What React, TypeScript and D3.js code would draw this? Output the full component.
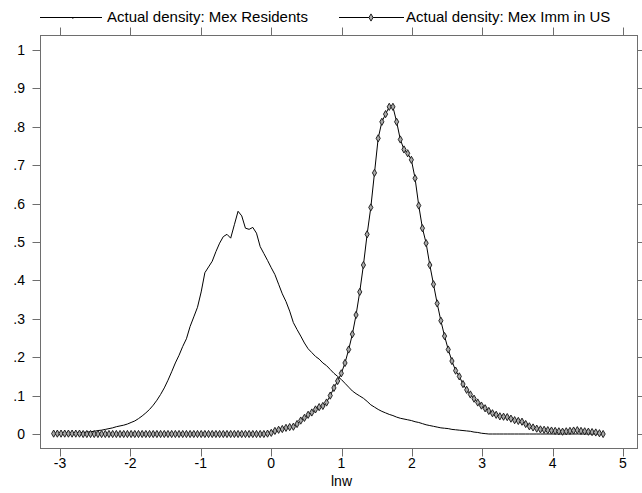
import React, { useEffect, useRef } from "react";
import * as d3 from "d3";

// kdensity evaluation grid (start, step, count)
const gridStart = -3.09;
const gridStep = 0.0524;
const gridCount = 150;

const residents: number[] = [
  0.0, 0.001, 0.001, 0.002, 0.002, 0.003, 0.003, 0.004, 0.004, 0.005,
  0.006, 0.007, 0.009, 0.01, 0.012, 0.014, 0.016, 0.019, 0.021, 0.023,
  0.026, 0.03, 0.034, 0.04, 0.047, 0.055, 0.064, 0.075, 0.088, 0.103,
  0.12, 0.14, 0.162, 0.185, 0.205, 0.228, 0.248, 0.28, 0.305, 0.33,
  0.37, 0.42, 0.435, 0.45, 0.475, 0.497, 0.514, 0.52, 0.51, 0.545,
  0.58, 0.568, 0.536, 0.533, 0.538, 0.523, 0.488, 0.47, 0.452, 0.433,
  0.415, 0.39, 0.365, 0.345, 0.32, 0.29, 0.272, 0.255, 0.237, 0.222,
  0.212, 0.202, 0.195, 0.185, 0.178, 0.168, 0.158, 0.15, 0.142, 0.132,
  0.122, 0.112, 0.105, 0.099, 0.093, 0.085, 0.076, 0.07, 0.064, 0.059,
  0.055, 0.051, 0.048, 0.044, 0.041, 0.039, 0.037, 0.035, 0.032, 0.03,
  0.027, 0.024, 0.022, 0.02, 0.018, 0.016, 0.015, 0.014, 0.012, 0.011,
  0.01, 0.009, 0.008, 0.007, 0.005, 0.004, 0.002, 0.001, 0.0, 0.0,
  0.0, 0.0, 0.0, 0.0, 0.0, 0.0, 0.0, 0.0, 0.0, 0.0,
  0.0, 0.0, 0.0, 0.0, 0.0, 0.0, 0.0, 0.0, 0.0, 0.0,
  0.0, 0.0, 0.0, 0.0, 0.0, 0.0, 0.0, 0.0, 0.0, 0.0,
];

const immigrants: number[] = [
  0.001, 0.001, 0.001, 0.001, 0.001, 0.001, 0.001, 0.001, 0.0, 0.0,
  0.0, 0.0, 0.0, 0.0, 0.0, 0.0, 0.0, 0.0, 0.0, 0.0,
  0.0, 0.0, 0.0, 0.0, 0.0, 0.0, 0.0, 0.0, 0.0, 0.0,
  0.0, 0.0, 0.0, 0.0, 0.0, 0.0, 0.0, 0.0, 0.0, 0.0,
  0.0, 0.0, 0.0, 0.0, 0.0, 0.0, 0.0, 0.0, 0.0, 0.0,
  0.0, 0.0, 0.0, 0.0, 0.0, 0.0, 0.0, 0.0, 0.001, 0.003,
  0.008, 0.011, 0.013, 0.016, 0.018, 0.019, 0.026, 0.035, 0.042, 0.05,
  0.056, 0.064, 0.07, 0.073, 0.082, 0.1, 0.12, 0.138, 0.158, 0.185,
  0.22, 0.26, 0.31, 0.37, 0.44, 0.52, 0.59, 0.68, 0.77, 0.813,
  0.833, 0.852, 0.852, 0.813, 0.767, 0.741, 0.731, 0.714, 0.666, 0.595,
  0.536, 0.497, 0.44, 0.39, 0.34, 0.295, 0.255, 0.22, 0.19, 0.165,
  0.15, 0.13, 0.115, 0.103, 0.092, 0.082, 0.074, 0.067, 0.06, 0.054,
  0.05, 0.046, 0.045, 0.044, 0.04, 0.036, 0.034, 0.032, 0.026, 0.02,
  0.017, 0.014, 0.012, 0.011, 0.01, 0.009, 0.008, 0.007, 0.006, 0.007,
  0.008, 0.009, 0.01, 0.008, 0.007, 0.006, 0.005, 0.004, 0.002, 0.0,
];

const xTicks = [-3, -2, -1, 0, 1, 2, 3, 4, 5];
const yTicks = [0, 0.1, 0.2, 0.3, 0.4, 0.5, 0.6, 0.7, 0.8, 0.9, 1];
const yTickLabels = ["0", ".1", ".2", ".3", ".4", ".5", ".6", ".7", ".8", ".9", "1"];
const seriesNames = ["Actual density: Mex Residents", "Actual density: Mex Imm in US"];
const xTitle = "lnw";

const W = 642;
const H = 493;
const frame = { left: 40, right: 637, top: 35, bottom: 448 };
const FONT = "'Liberation Sans', Arial, sans-serif";

export default function App() {
  const ref = useRef<SVGSVGElement | null>(null);

  useEffect(() => {
    const svg = d3.select(ref.current);
    svg.selectAll("*").remove();

    const x = d3.scaleLinear().domain([-3, 5]).range([60, 623]);
    const y = d3.scaleLinear().domain([0, 1]).range([434, 50]);

    const grid = d3.range(gridCount).map((i) => gridStart + i * gridStep);
    const resPts = grid.map((g, i) => [g, residents[i]] as [number, number]);
    const immPts = grid.map((g, i) => [g, immigrants[i]] as [number, number]);

    svg.append("rect").attr("width", W).attr("height", H).attr("fill", "#fff");

    const frameColor = "#6e6e6e";
    svg.append("rect")
      .attr("x", frame.left + 0.5).attr("y", frame.top + 0.5)
      .attr("width", frame.right - frame.left).attr("height", frame.bottom - frame.top)
      .attr("fill", "none").attr("stroke", frameColor).attr("stroke-width", 1);

    const tl = 8;
    xTicks.forEach((t) => {
      const px = Math.round(x(t)) + 0.5;
      svg.append("line").attr("x1", px).attr("x2", px)
        .attr("y1", frame.bottom + 0.5).attr("y2", frame.bottom + 0.5 + tl)
        .attr("stroke", frameColor);
      svg.append("line").attr("x1", px).attr("x2", px)
        .attr("y1", frame.top + 0.5).attr("y2", frame.top + 0.5 - tl)
        .attr("stroke", frameColor);
      svg.append("text").attr("x", x(t)).attr("y", 463)
        .attr("text-anchor", "middle").attr("dominant-baseline", "central")
        .attr("font-family", FONT).attr("font-size", 14).attr("fill", "#000")
        .text(String(t));
    });
    yTicks.forEach((t, i) => {
      const py = Math.round(y(t)) + 0.5;
      svg.append("line").attr("x1", frame.left + 0.5 - tl).attr("x2", frame.left + 0.5)
        .attr("y1", py).attr("y2", py).attr("stroke", frameColor);
      svg.append("line").attr("x1", frame.right + 0.5).attr("x2", frame.right + 0.5 + tl)
        .attr("y1", py).attr("y2", py).attr("stroke", frameColor);
      svg.append("text").attr("x", 25).attr("y", y(t))
        .attr("text-anchor", "end").attr("dominant-baseline", "central")
        .attr("font-family", FONT).attr("font-size", 14).attr("fill", "#000")
        .text(yTickLabels[i]);
    });

    svg.append("text").attr("x", x(1)).attr("y", 481)
      .attr("text-anchor", "middle").attr("dominant-baseline", "central")
      .attr("font-family", FONT).attr("font-size", 14).attr("fill", "#000")
      .text(xTitle);

    const line = d3.line<[number, number]>().x((d) => x(d[0])).y((d) => y(d[1]));

    svg.append("path").attr("d", line(resPts) || "")
      .attr("fill", "none").attr("stroke", "#000").attr("stroke-width", 1);
    svg.append("path").attr("d", line(immPts) || "")
      .attr("fill", "none").attr("stroke", "#000").attr("stroke-width", 1);

    const diamond = d3.symbol().type(d3.symbolDiamond).size(15);
    svg.append("g").selectAll("path").data(immPts).join("path")
      .attr("d", diamond() || "")
      .attr("transform", (d) => `translate(${x(d[0])},${y(d[1])})`)
      .attr("fill", "#aaaaaa").attr("stroke", "#111").attr("stroke-width", 0.9);

    // legend
    const ly = 17.5;
    svg.append("line").attr("x1", 40).attr("x2", 102).attr("y1", ly).attr("y2", ly)
      .attr("stroke", "#000");
    svg.append("rect").attr("x", 72).attr("y", ly - 0.5).attr("width", 1.5).attr("height", 1.5).attr("fill", "#000");
    svg.append("text").attr("x", 107).attr("y", ly - 1)
      .attr("dominant-baseline", "central").attr("font-family", FONT).attr("font-size", 15)
      .attr("fill", "#000").text(seriesNames[0]);

    svg.append("line").attr("x1", 339).attr("x2", 404).attr("y1", ly).attr("y2", ly)
      .attr("stroke", "#000");
    svg.append("path").attr("d", diamond() || "")
      .attr("transform", `translate(371,${ly})`)
      .attr("fill", "#aaaaaa").attr("stroke", "#111").attr("stroke-width", 0.9);
    svg.append("text").attr("x", 406).attr("y", ly - 1)
      .attr("dominant-baseline", "central").attr("font-family", FONT).attr("font-size", 15)
      .attr("fill", "#000").text(seriesNames[1]);
  }, []);

  return (
    <div style={{ position: "absolute", left: 0, top: 0 }}>
      <svg ref={ref} width={W} height={H} style={{ display: "block" }} />
    </div>
  );
}
